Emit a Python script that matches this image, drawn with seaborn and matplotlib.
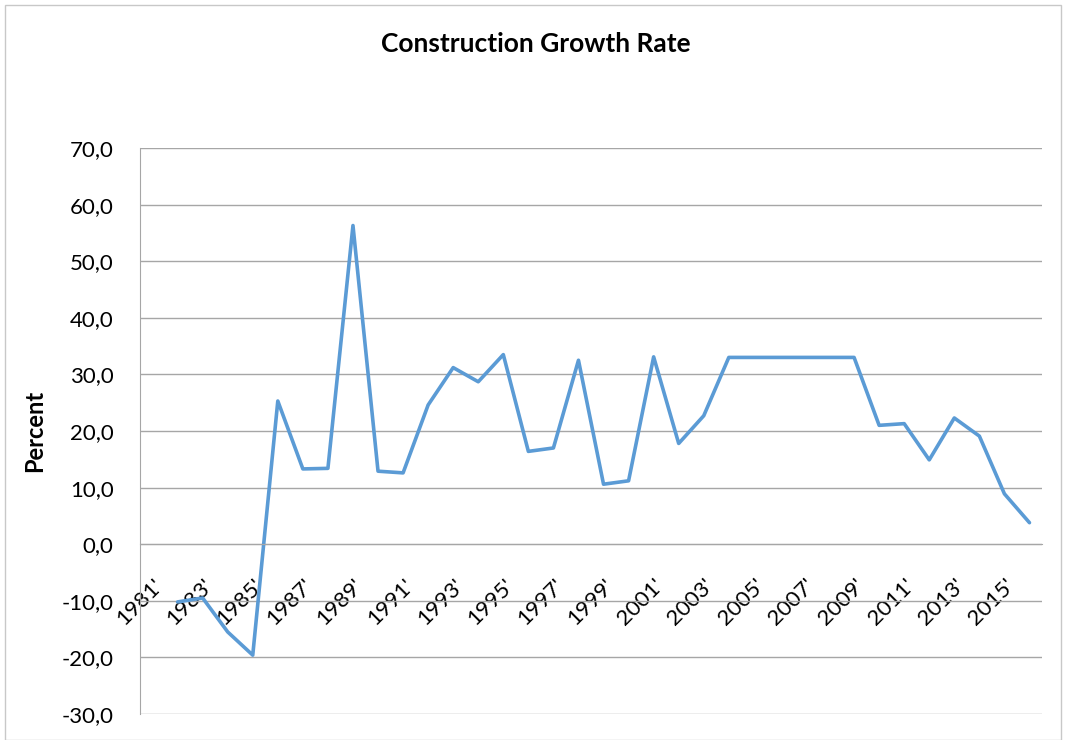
import matplotlib
matplotlib.use("Agg")
import matplotlib.pyplot as plt
import seaborn as sns
import numpy as np
import pandas as pd
from matplotlib.ticker import FuncFormatter
from matplotlib.patches import Rectangle

# data (1981 has no value)
years = list(range(1981, 2017))
growth = [np.nan, -10.2, -9.5, -15.5, -19.6, 25.3, 13.3, 13.4, 56.3, 12.9,
          12.6, 24.6, 31.2, 28.7, 33.5, 16.4, 17.0, 32.5, 10.6, 11.2,
          33.1, 17.8, 22.7, 33.0, 33.0, 33.0, 33.0, 33.0, 33.0, 21.0,
          21.3, 14.9, 22.3, 19.1, 8.9, 3.8]
tick_years = list(range(1981, 2016, 2))
tick_labels = [f"{y}'" for y in tick_years]

df = pd.DataFrame({"year": years, "growth": growth})

sns.set_style("white")
plt.rcParams["font.family"] = ["Lato", "DejaVu Sans"]
plt.rcParams["text.color"] = "black"
plt.rcParams["axes.labelcolor"] = "black"
plt.rcParams["xtick.color"] = "black"
plt.rcParams["ytick.color"] = "black"

fig = plt.figure(figsize=(10.66, 7.4), dpi=100)
ax = fig.add_axes([140 / 1066, 1 - 714 / 740, 902 / 1066, 566 / 740])

sns.lineplot(data=df, x="year", y="growth", ax=ax, color="#5B9BD5",
             linewidth=2.6, legend=False)

ax.set_xlim(1980.5, 2016.5)
ax.set_ylim(-30, 70)
ax.set_yticks(range(-30, 71, 10))
ax.yaxis.set_major_formatter(FuncFormatter(lambda v, p: f"{v:.1f}".replace(".", ",")))
ax.grid(axis="y", color="#A6A6A6", linewidth=1.0)
ax.set_axisbelow(True)

# x axis crosses at zero, like the spreadsheet chart
for s in ["top", "right"]:
    ax.spines[s].set_visible(False)
ax.spines["bottom"].set_position(("data", 0))
ax.spines["bottom"].set_color("#A6A6A6")
ax.spines["left"].set_color("#A6A6A6")

ax.set_xticks(tick_years)
ax.set_xticklabels(tick_labels, rotation=45, ha="right", rotation_mode="anchor")
ax.tick_params(axis="x", length=0, labelsize=16, pad=22)
ax.tick_params(axis="y", length=0, labelsize=16, pad=19)

ax.set_xlabel("")
ax.set_ylabel("Percent", fontsize=17, fontweight="bold")
ax.yaxis.set_label_coords(-0.104, 0.5)
fig.text(536 / 1066, 1 - 44 / 740, "Construction Growth Rate", ha="center",
         va="center", fontsize=19, fontweight="bold")

fig.patches.append(Rectangle((5 / 1066, 0), 1056 / 1066, 1 - 5 / 740,
                             transform=fig.transFigure, fill=False,
                             edgecolor="#C8C8C8", linewidth=1))

fig.savefig("out.png", dpi=100)
